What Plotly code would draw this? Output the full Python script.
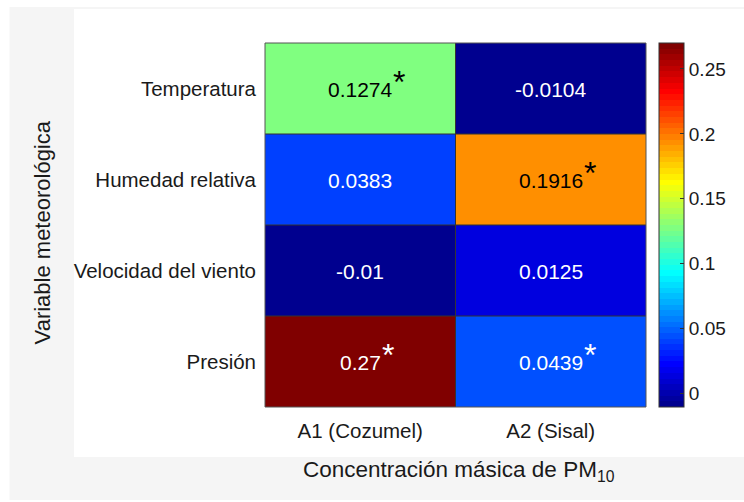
import plotly.graph_objects as go
import numpy as np

rows = ["Temperatura", "Humedad relativa", "Velocidad del viento", "Presión"]
cols = ["A1 (Cozumel)", "A2 (Sisal)"]
values = [[0.1274, -0.0104],
          [0.0383, 0.1916],
          [-0.01, 0.0125],
          [0.27, 0.0439]]
labels = [["0.1274", "-0.0104"],
          ["0.0383", "0.1916"],
          ["-0.01", "0.0125"],
          ["0.27", "0.0439"]]
signif = [[True, False],
          [False, True],
          [False, False],
          [True, True]]
cbar_ticks = [0, 0.05, 0.1, 0.15, 0.2, 0.25]

FONT = "Liberation Sans, Arial, sans-serif"
TXT = "#1a1a1a"

# MATLAB jet(64)
def matlab_jet(m=64):
    n = int(np.ceil(m / 4))
    u = np.concatenate([np.arange(1, n + 1) / n, np.ones(n - 1), np.arange(n, 0, -1) / n])
    g = int(np.ceil(n / 2)) - (1 if m % 4 == 1 else 0) + np.arange(1, len(u) + 1)
    r = g + n
    b = g - n
    J = np.zeros((m, 3))
    for idx, val in zip(r, u):
        if 1 <= idx <= m:
            J[idx - 1, 0] = val
    for idx, val in zip(g, u):
        if 1 <= idx <= m:
            J[idx - 1, 1] = val
    for idx, val in zip(b, u):
        if 1 <= idx <= m:
            J[idx - 1, 2] = val
    return J

J = matlab_jet(64)
cs = []
for i, c in enumerate(J):
    col = "rgb(%d,%d,%d)" % tuple(int(round(v * 255)) for v in c)
    cs.append([i / 64, col])
    cs.append([(i + 1) / 64, col])

zmin = min(min(r) for r in values)
zmax = max(max(r) for r in values)

fig = go.Figure()
fig.add_trace(go.Heatmap(
    z=values, x=cols, y=rows, colorscale=cs, zmin=zmin, zmax=zmax,
    showscale=True, hoverinfo="skip",
    colorbar=dict(
        x=1.034, xanchor="left", xpad=0, y=0, yanchor="bottom", len=1, ypad=0,
        thickness=25, outlinewidth=1, outlinecolor="#333333",
        tickvals=cbar_ticks, ticktext=[("%g" % t) for t in cbar_ticks],
        ticks="inside", ticklen=4, tickcolor="#333333",
        tickfont=dict(family=FONT, size=19, color=TXT),
    ),
))

def text_width(s, fs):
    w = 0
    for ch in s:
        if ch == ".":
            w += 0.278
        elif ch == "-":
            w += 0.333
        else:
            w += 0.556
    return w * fs

annotations = []
FS = 21
for i, rname in enumerate(rows):
    for j, cname in enumerate(cols):
        frac = (values[i][j] - zmin) / (zmax - zmin)
        color = "black" if 0.35 < frac < 0.8 else "white"
        annotations.append(dict(x=cname, y=rname, text=labels[i][j], showarrow=False,
                                font=dict(family=FONT, size=FS, color=color), yshift=-1))
        if signif[i][j]:
            annotations.append(dict(x=cname, y=rname, text="*", showarrow=False,
                                    xanchor="left", xshift=text_width(labels[i][j], FS) / 2 - 1,
                                    yshift=7,
                                    font=dict(family=FONT, size=32, color=color)))

annotations.append(dict(xref="paper", yref="paper", x=0.51, y=-0.175, yanchor="middle",
                        text="Concentración másica de PM<sub>10</sub>", showarrow=False,
                        font=dict(family=FONT, size=22.5, color=TXT)))
annotations.append(dict(xref="paper", yref="paper", x=-0.585, y=0.48, textangle=-90,
                        xanchor="center", yanchor="middle",
                        text="Variable meteorológica", showarrow=False,
                        font=dict(family=FONT, size=22, color=TXT)))

shapes = [
    dict(type="rect", xref="paper", yref="paper", x0=-0.6706, x1=1.26, y0=-0.2555, y1=1.0989,
         fillcolor="#f5f5f5", line=dict(width=0), layer="below"),
    dict(type="rect", xref="paper", yref="paper", x0=-0.5013, x1=1.26, y0=-0.1374, y1=1.0934,
         fillcolor="white", line=dict(width=0), layer="below"),
]
# cell borders
for k in range(1, len(cols)):
    shapes.append(dict(type="line", xref="x", yref="paper", x0=k - 0.5, x1=k - 0.5, y0=0, y1=1,
                       line=dict(color="#333333", width=1)))
for k in range(1, len(rows)):
    shapes.append(dict(type="line", xref="paper", yref="y", x0=0, x1=1, y0=k - 0.5, y1=k - 0.5,
                       line=dict(color="#333333", width=1)))
shapes.append(dict(type="rect", xref="paper", yref="paper", x0=0, x1=1, y0=0, y1=1,
                   line=dict(color="#555555", width=1)))

fig.update_layout(
    width=744, height=502,
    margin=dict(l=265, r=98, t=43, b=95),
    paper_bgcolor="white", plot_bgcolor="white",
    annotations=annotations, shapes=shapes,
    xaxis=dict(showgrid=False, zeroline=False, ticks="", ticklabelstandoff=9,
               tickfont=dict(family=FONT, size=20.5, color=TXT)),
    yaxis=dict(showgrid=False, zeroline=False, ticks="", autorange="reversed",
               ticklabelstandoff=8,
               tickfont=dict(family=FONT, size=20.5, color=TXT)),
)

fig.write_html("out.html")
